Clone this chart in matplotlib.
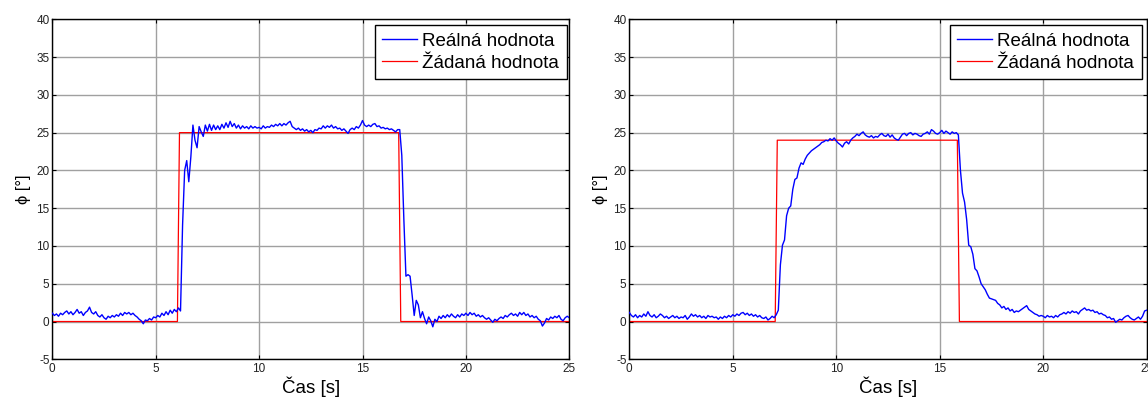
import numpy as np
import matplotlib
matplotlib.use("Agg")
import matplotlib.pyplot as plt

plt.rcParams['font.family'] = ['Liberation Sans', 'DejaVu Sans']
plt.rcParams['axes.unicode_minus'] = False

# ---------------- data ----------------
time_step = 0.1
left_real = [
    1.1, 0.8, 1.0, 0.7, 1.1, 0.9, 1.2, 1.4, 1.0, 1.3,
    0.9, 1.2, 1.6, 1.1, 1.3, 0.8, 1.2, 1.4, 1.9, 1.2,
    1.0, 1.3, 0.8, 0.6, 0.9, 0.5, 0.3, 0.7, 0.5, 0.8,
    0.6, 0.9, 0.7, 1.1, 0.8, 1.2, 1.0, 1.2, 0.9, 1.1,
    0.8, 0.6, 0.3, 0.1, -0.3, 0.2, 0.1, 0.4, 0.2, 0.6,
    0.5, 0.8, 0.6, 1.1, 0.8, 1.3, 0.9, 1.5, 1.1, 1.6,
    1.3, 1.8, 1.4, 12.8, 20.0, 21.3, 18.5, 21.8, 26.0, 24.0,
    23.0, 25.8, 25.1, 24.5, 26.0, 25.2, 26.1, 25.3, 26.0, 25.4,
    25.9, 25.4, 26.1, 25.6, 26.3, 25.7, 26.5, 25.8, 26.2, 25.6,
    26.0, 25.5, 25.9, 25.6, 25.8, 25.5, 25.9, 25.6, 25.8, 25.6,
    25.7, 25.5, 25.9, 25.6, 25.8, 25.7, 26.0, 25.8, 26.1, 25.9,
    26.2, 25.9, 26.2, 26.0, 26.3, 26.5, 25.8, 25.6, 25.4, 25.6,
    25.3, 25.5, 25.2, 25.4, 25.1, 25.3, 25.0, 25.4, 25.3, 25.6,
    25.5, 25.9, 25.6, 25.9, 25.7, 26.0, 25.6, 25.8, 25.5, 25.6,
    25.3, 25.5, 25.2, 24.9, 25.4, 25.6, 25.4, 25.8, 25.6, 26.0,
    26.6, 26.0, 25.8, 26.0, 25.8, 26.1, 26.2, 25.8, 25.9, 25.6,
    25.7, 25.5, 25.6, 25.4, 25.5, 25.3, 25.1, 25.4, 25.4, 22.0,
    13.5, 6.0, 6.2, 6.0, 3.5, 0.8, 2.8, 2.2, 0.5, 1.3,
    0.4, -0.3, 0.6, 0.1, -0.7, 0.3, 0.0, 0.7, 0.4, 0.8,
    0.5, 0.9, 0.6, 1.0, 0.7, 0.5, 0.9, 0.6, 1.0, 0.8,
    1.1, 0.8, 1.2, 0.9, 1.1, 0.7, 0.9, 0.6, 0.8, 0.5,
    0.3, 0.5, 0.2, -0.1, 0.3, 0.1, 0.4, 0.6, 0.4, 0.8,
    0.6, 0.9, 1.1, 0.8, 1.0, 0.7, 1.2, 0.9, 1.2, 0.8,
    1.0, 0.6, 0.8, 0.5, 0.7, 0.3, 0.1, -0.6, -0.2, 0.4,
    0.2, 0.6, 0.4, 0.7, 0.5, 0.8, 0.3, 0.1, 0.5, 0.7,
    0.5,
]
right_real = [
    1.2, 0.8, 0.6, 0.9, 0.5, 0.8, 0.6, 1.0, 0.7, 1.3,
    0.8, 0.6, 0.9, 0.5, 0.7, 1.0, 0.8, 0.5, 0.7, 0.4,
    0.6, 0.8, 0.5, 0.7, 0.4, 0.6, 0.5, 0.8, 0.3, 0.6,
    1.0, 0.7, 0.9, 0.6, 0.8, 0.5, 0.7, 0.4, 0.8, 0.6,
    0.7, 0.5, 0.6, 0.3, 0.6, 0.4, 0.7, 0.5, 0.8, 0.6,
    0.9, 0.7, 1.0, 0.8, 1.1, 1.2, 0.9, 1.1, 0.8, 1.0,
    0.7, 0.9, 0.6, 0.8, 0.5, 0.4, 0.6, 0.2, 0.4, 0.7,
    0.5, 0.9, 1.5, 7.5, 10.1, 10.8, 14.0, 15.0, 15.3, 17.5,
    18.8, 19.0, 20.3, 21.0, 20.8, 21.5, 22.0, 22.3, 22.6, 22.8,
    23.0, 23.2, 23.4, 23.7, 23.8, 24.0, 23.9, 24.2, 24.0, 24.3,
    23.9, 23.6, 23.4, 23.1, 23.6, 23.8, 23.5, 24.0, 24.3, 24.5,
    24.8, 24.6, 24.9, 25.1, 24.7, 24.5, 24.4, 24.6, 24.3, 24.5,
    24.4, 24.7, 24.9, 24.6, 24.5, 24.8, 24.4, 24.7, 24.3, 24.1,
    24.0, 24.4, 24.8, 24.9, 24.6, 24.9, 25.0, 24.7, 24.9, 24.8,
    24.6, 24.5, 24.8, 24.9, 25.1, 24.8, 25.4, 25.2, 24.9, 24.8,
    25.0, 25.3, 24.9, 25.2, 25.0, 24.8, 25.1, 24.9, 25.0, 24.7,
    20.0, 17.0, 15.8, 13.5, 10.1, 9.9, 8.9, 7.0, 6.7, 5.9,
    5.0, 4.6, 4.2, 3.6, 3.1, 3.0, 2.9, 2.8, 2.4, 2.2,
    1.8, 2.0, 1.6, 1.8, 1.4, 1.6, 1.2, 1.4, 1.3, 1.5,
    1.7, 1.9, 2.1, 1.6, 1.4, 1.2, 1.0, 0.9, 0.7, 0.8,
    0.7, 0.5, 0.8, 0.6, 0.7, 0.5, 0.8, 0.6, 0.9, 1.0,
    1.2, 1.0, 1.3, 1.1, 1.4, 1.2, 1.3, 1.0, 1.4, 1.6,
    1.8, 1.5, 1.6, 1.4, 1.5, 1.2, 1.3, 1.0, 1.1, 0.9,
    0.8, 0.5, 0.6, 0.3, 0.4, -0.1, 0.1, 0.3, 0.2, 0.5,
    0.7, 0.8, 0.5, 0.3, 0.2, 0.4, 0.6, 0.3, 0.7, 1.4,
    1.5,
]
left_ref_t = [0, 6.05, 6.15, 16.75, 16.85, 25]
left_ref_v = [0, 0, 25, 25, 0, 0]
right_ref_t = [0, 7.05, 7.15, 15.85, 15.95, 25]
right_ref_v = [0, 0, 24, 24, 0, 0]

labels = ['Reálná hodnota', 'Žádaná hodnota']
xlabel = 'Čas [s]'
ylabel = 'ϕ [°]'
xticks = [0, 5, 10, 15, 20, 25]
yticks = [-5, 0, 5, 10, 15, 20, 25, 30, 35, 40]

# ---------------- figure ----------------
fig = plt.figure(figsize=(11.48, 3.98), dpi=100)
W, H = 1148, 398
ax_specs = [(52.3, 569.3), (629.3, 1146.7)]
top_px, bot_px = 19.3, 359.3

datasets = [(left_real, left_ref_t, left_ref_v), (right_real, right_ref_t, right_ref_v)]
legend_pad = [(2.6, 6.0), (5.0, 6.0)]

for (xl, xr), (real, rt, rv), (px, py) in zip(ax_specs, datasets, legend_pad):
    ax = fig.add_axes([xl / W, (H - bot_px) / H, (xr - xl) / W, (bot_px - top_px) / H])
    t = np.arange(len(real)) * time_step
    l1, = ax.plot(t, real, color='#0000ff', lw=1.0, zorder=3)
    l2, = ax.plot(rt, rv, color='#ff0000', lw=0.9, zorder=2)
    ax.set_xlim(0, 25)
    ax.set_ylim(-5, 40)
    ax.set_xticks(xticks)
    ax.set_yticks(yticks)
    ax.grid(True, color='#a0a0a0', lw=1.0, zorder=0)
    ax.set_axisbelow(True)
    ax.tick_params(direction='in', length=3, width=0.8, top=True, right=True,
                   labelsize=8.5, labelcolor='#222222')
    ax.tick_params(axis='x', pad=3)
    ax.tick_params(axis='y', pad=2)
    for s in ax.spines.values():
        s.set_linewidth(1.0)
        s.set_color('black')
    ax.set_xlabel(xlabel, fontsize=13.5, labelpad=1)
    ax.set_ylabel(ylabel, fontsize=12, labelpad=4)
    aw, ah = xr - xl, bot_px - top_px
    leg = ax.legend([l1, l2], labels, loc='upper right',
                    bbox_to_anchor=(1 - px / aw, 1 - py / ah), borderaxespad=0,
                    fontsize=13.5, fancybox=False, framealpha=1, edgecolor='black',
                    handlelength=1.85, handletextpad=0.3, borderpad=0.4,
                    labelspacing=0.25)
    leg.get_frame().set_linewidth(1.0)

fig.savefig('out.png', dpi=100, facecolor='white')
